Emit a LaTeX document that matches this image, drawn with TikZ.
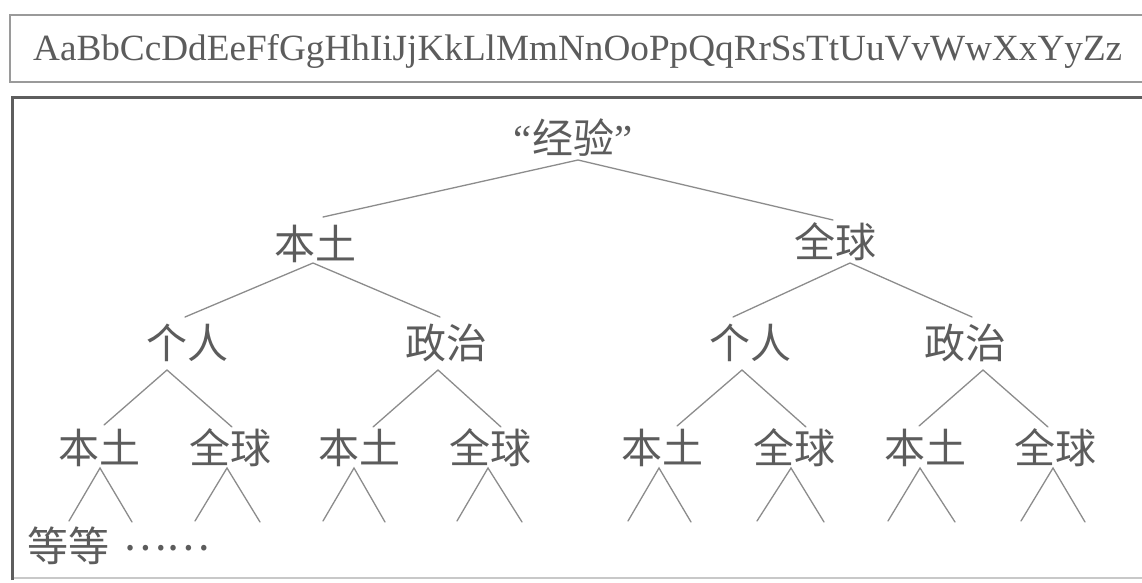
\documentclass[tikz,border=0pt]{standalone}
\usepackage{fontspec}
\usepackage{graphicx}
\newfontfamily\cjk{Noto Sans CJK SC}
\newfontfamily\latinfont{Liberation Serif}
\definecolor{txtgray}{HTML}{5C5C5C}
\definecolor{linegray}{HTML}{8C8C8C}
\definecolor{boxdark}{HTML}{5E5E5E}
\definecolor{boxlight}{HTML}{9A9A9A}
\definecolor{boxfaint}{HTML}{C8C8C8}
\begin{document}
\begin{tikzpicture}[x=1pt,y=-1pt,
  lbl/.style={font=\cjk\fontsize{41}{41}\selectfont, text=txtgray, inner sep=0pt, anchor=center},
  link/.style={draw=linegray, line width=1.3pt, line cap=round},
  alpha/.style={font=\latinfont\fontsize{37}{37}\selectfont, text=txtgray, inner sep=0pt, anchor=base west}
]
\useasboundingbox (0,0) rectangle (1142,582);
\fill[white] (0,0) rectangle (1142,582);
\begin{scope}
\clip (0,0) rectangle (1142,582);
% top box
\draw[boxlight, line width=1.5pt] (10,15) rectangle (1160,82);
% lower box
\draw[boxfaint, line width=1.5pt] (12,578) -- (1160,578);
\draw[boxdark, line width=3pt] (12,580) -- (12,97) -- (1160,97);
\end{scope}

% alphabet line
\node[alpha] (abc) at (33,60) {\resizebox{1089pt}{\height}{AaBbCcDdEeFfGgHhIiJjKkLlMmNnOoPpQqRrSsTtUuVvWwXxYyZz}};

% tree nodes
\node[lbl] (root) at (573,138) {{\latinfont “}经验{\latinfont ”}};
\node[lbl] (bA) at (315,244) {本土};
\node[lbl] (qB) at (835,242) {全球};
\node[lbl] (gA) at (187,343) {个人};
\node[lbl] (zA) at (446,343) {政治};
\node[lbl] (gB) at (750,343) {个人};
\node[lbl] (zB) at (965,343) {政治};
\node[lbl] (l1) at (99,448) {本土};
\node[lbl] (l2) at (230,448) {全球};
\node[lbl] (l3) at (359,448) {本土};
\node[lbl] (l4) at (490,448) {全球};
\node[lbl] (l5) at (662,448) {本土};
\node[lbl] (l6) at (794,448) {全球};
\node[lbl] (l7) at (925,448) {本土};
\node[lbl] (l8) at (1055,448) {全球};
\node[lbl, anchor=west] (etc) at (27,546) {等等\hspace{14pt}\raisebox{11pt}{……}};

% connector end points
\coordinate (root-v) at (578,160);
\coordinate (bA-t) at (323,217);
\coordinate (qB-t) at (833,220);
\coordinate (bA-v) at (313,263);
\coordinate (qB-v) at (850,263);
\coordinate (gA-t) at (185,317);
\coordinate (zA-t) at (440,317);
\coordinate (gB-t) at (733,317);
\coordinate (zB-t) at (972,317);
\coordinate (gA-v) at (167,370);
\coordinate (zA-v) at (438,370);
\coordinate (gB-v) at (742,370);
\coordinate (zB-v) at (983,370);
\coordinate (l1-t) at (104,425);
\coordinate (l2-t) at (232,427);
\coordinate (l3-t) at (373,427);
\coordinate (l4-t) at (501,427);
\coordinate (l5-t) at (677,426);
\coordinate (l6-t) at (806,427);
\coordinate (l7-t) at (919,426);
\coordinate (l8-t) at (1048,427);
% wedge apices and feet
\coordinate (l1-v) at (100,468); \coordinate (l1-a) at (69,521);  \coordinate (l1-b) at (132,522);
\coordinate (l2-v) at (227,468); \coordinate (l2-a) at (195,521); \coordinate (l2-b) at (260,522);
\coordinate (l3-v) at (354,468); \coordinate (l3-a) at (323,521); \coordinate (l3-b) at (385,522);
\coordinate (l4-v) at (488,468); \coordinate (l4-a) at (457,521); \coordinate (l4-b) at (522,522);
\coordinate (l5-v) at (659,468); \coordinate (l5-a) at (628,521); \coordinate (l5-b) at (691,522);
\coordinate (l6-v) at (791,468); \coordinate (l6-a) at (757,521); \coordinate (l6-b) at (824,522);
\coordinate (l7-v) at (920,468); \coordinate (l7-a) at (888,521); \coordinate (l7-b) at (955,522);
\coordinate (l8-v) at (1053,468); \coordinate (l8-a) at (1021,521); \coordinate (l8-b) at (1085,522);

% connectors
\draw[link] (bA-t) -- (root-v) -- (qB-t);
\draw[link] (gA-t) -- (bA-v) -- (zA-t);
\draw[link] (gB-t) -- (qB-v) -- (zB-t);
\draw[link] (l1-t) -- (gA-v) -- (l2-t);
\draw[link] (l3-t) -- (zA-v) -- (l4-t);
\draw[link] (l5-t) -- (gB-v) -- (l6-t);
\draw[link] (l7-t) -- (zB-v) -- (l8-t);
\foreach \n in {l1,l2,l3,l4,l5,l6,l7,l8}{
  \draw[link] (\n-a) -- (\n-v) -- (\n-b);
}
\end{tikzpicture}
\end{document}
